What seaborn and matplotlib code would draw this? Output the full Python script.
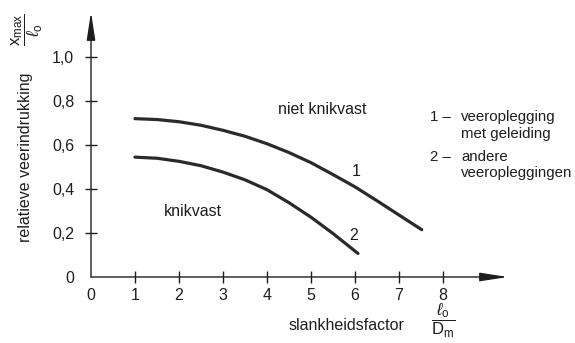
import numpy as np
import pandas as pd
import matplotlib
matplotlib.use("Agg")
import matplotlib.pyplot as plt
import seaborn as sns

# ---- data ----
curve1_x = [1.0, 1.5, 2.0, 2.5, 3.0, 3.5, 4.0, 4.5, 5.0, 5.5, 6.0, 6.5, 7.0, 7.52]
curve1_y = [0.72, 0.716, 0.706, 0.69, 0.667, 0.64, 0.606, 0.566, 0.52, 0.466, 0.41, 0.347, 0.282, 0.215]
curve2_x = [1.0, 1.5, 2.0, 2.5, 3.0, 3.5, 4.0, 4.5, 5.0, 5.5, 6.07]
curve2_y = [0.545, 0.54, 0.526, 0.506, 0.477, 0.442, 0.397, 0.338, 0.272, 0.198, 0.107]
x_ticks = [0, 1, 2, 3, 4, 5, 6, 7, 8]
x_tick_labels = ["0", "1", "2", "3", "4", "5", "6", "7", "8"]
y_ticks = [0, 0.2, 0.4, 0.6, 0.8, 1.0]
y_tick_labels = ["0", "0,2", "0,4", "0,6", "0,8", "1,0"]

df = pd.DataFrame({
    "x": curve1_x + curve2_x,
    "y": curve1_y + curve2_y,
    "curve": ["1"] * len(curve1_x) + ["2"] * len(curve2_x),
})

sns.set_theme(style="white")
plt.rcParams["font.family"] = ["Liberation Sans", "DejaVu Sans"]
plt.rcParams["mathtext.fontset"] = "custom"
plt.rcParams["mathtext.rm"] = "Liberation Sans"
plt.rcParams["mathtext.it"] = "Liberation Sans:italic"

W, H = 575, 343
fig = plt.figure(figsize=(W / 100, H / 100), dpi=100)
fig.patch.set_facecolor("white")
ax = fig.add_axes([91 / W, 1 - 277 / H, (508 - 91) / W, (277 - 12) / H])
ax.set_facecolor("white")

ink = "#1e1e1e"
FS = 11.5
LFS = 10.8
sns.lineplot(data=df, x="x", y="y", hue="curve", palette=["#2a2a2a", "#2a2a2a"],
             estimator=None, sort=False, linewidth=2.3, legend=False, ax=ax)

ax.set_xlim(0, 9.48)
ax.set_ylim(0, 1.205)
ax.set_xlabel("")
ax.set_ylabel("")
for s in ax.spines.values():
    s.set_visible(False)

# axis lines with arrow heads
arrow = dict(arrowstyle="-|>,head_length=0.85,head_width=0.13", color=ink, lw=1.0,
             shrinkA=0, shrinkB=0, mutation_scale=20)
ax.annotate("", xy=(1, 0), xytext=(0, 0), xycoords="axes fraction",
            textcoords="axes fraction", arrowprops=arrow, annotation_clip=False)
ax.annotate("", xy=(0, 1), xytext=(0, 0), xycoords="axes fraction",
            textcoords="axes fraction", arrowprops=arrow, annotation_clip=False)

ax.set_xticks(x_ticks)
ax.set_xticklabels(x_tick_labels)
ax.set_yticks(y_ticks)
ax.set_yticklabels(y_tick_labels)
ax.tick_params(axis="both", direction="inout", length=8, width=1.0, color=ink,
               labelcolor=ink, labelsize=11.5, left=True, bottom=True)
ax.tick_params(axis="x", pad=4)
ax.tick_params(axis="y", pad=8)
ax.xaxis.get_major_ticks()[0].tick1line.set_visible(False)
ax.yaxis.get_major_ticks()[0].tick1line.set_visible(False)
ax.grid(False)

# in-plot annotations
ax.text(5.25, 0.76, "niet knikvast", fontsize=FS, color=ink, ha="center", va="center")
ax.text(2.32, 0.30, "knikvast", fontsize=FS, color=ink, ha="center", va="center")
ax.text(6.02, 0.48, "1", fontsize=FS, color=ink, ha="center", va="center")
ax.text(5.98, 0.19, "2", fontsize=FS, color=ink, ha="center", va="center")

def ftext(x, y, s, **kw):
    kw.setdefault("fontsize", FS)
    kw.setdefault("color", ink)
    fig.text(x / W, 1 - y / H, s, **kw)

# legend-like notes on the right
ftext(451, 117, "1 –", ha="right", va="center", fontsize=LFS)
ftext(461, 117, "veeroplegging", ha="left", va="center", fontsize=LFS)
ftext(461, 134, "met geleiding", ha="left", va="center", fontsize=LFS)
ftext(451, 157, "2 –", ha="right", va="center", fontsize=LFS)
ftext(461, 157, "andere", ha="left", va="center", fontsize=LFS)
ftext(461, 173, "veeropleggingen", ha="left", va="center", fontsize=LFS)

# axis titles
ftext(26, 157, "relatieve veerindrukking", rotation=90, ha="center", va="center")
ftext(27, 30, r"$\dfrac{\mathrm{x}_{\mathrm{max}}}{\ell_{\mathrm{o}}}$", rotation=90,
      ha="center", va="center", fontsize=12)
ftext(347, 326, "slankheidsfactor", ha="center", va="center")
ftext(443, 321, r"$\dfrac{\ell_{\mathrm{o}}}{\mathrm{D}_{\mathrm{m}}}$", ha="center",
      va="center", fontsize=12)

fig.savefig("out.png", dpi=100, facecolor="white")
